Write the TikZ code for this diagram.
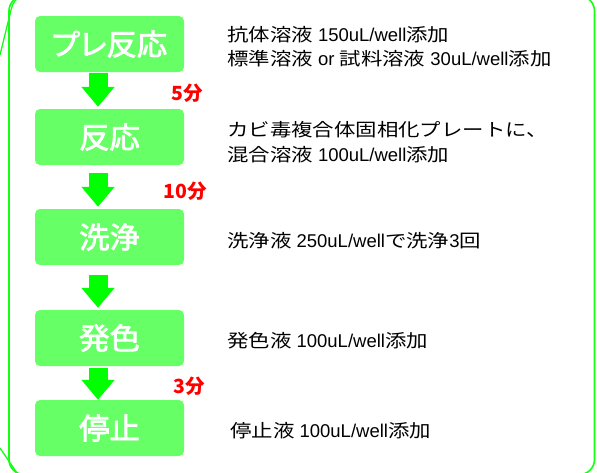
\documentclass[tikz,border=0pt]{standalone}
\usepackage{fontspec}
\setmainfont{Noto Sans CJK JP}
\newfontfamily\jpdesc[FakeStretch=1.19]{Noto Sans CJK JP}
\newfontfamily\jpbox[FakeStretch=1.03,FakeBold=2.5,RawFeature=+palt]{Noto Sans CJK JP}
\newfontfamily\latn{Liberation Sans}
\newcommand{\lt}[1]{{\latn\fontsize{18.5}{24.5}\selectfont #1}}
\usetikzlibrary{arrows.meta}
\definecolor{boxg}{RGB}{102,255,102}
\definecolor{arrg}{RGB}{0,255,0}
\definecolor{frameg}{RGB}{20,255,20}
\definecolor{timer}{RGB}{255,0,0}
\begin{document}
\begin{tikzpicture}[x=1pt,y=-1pt,
  stepbox/.style={rectangle, fill=boxg, rounded corners=5pt, minimum width=149pt,
    minimum height=56pt, inner sep=0pt, text=white,
    font=\jpbox\fontsize{29.5}{29.5}\selectfont},
  bigarrow/.style={draw=arrg, line width=19pt, -{Triangle[length=20pt,width=32pt,color=arrg]}},
  timelbl/.style={anchor=east, inner sep=0pt, text=timer,
    font=\bfseries\fontsize{19.5}{19.5}\selectfont},
  desc/.style={anchor=west, inner sep=0pt, align=left,
    font=\jpdesc\fontsize{18}{24.5}\selectfont},
  frame/.style={draw=frameg, line width=1.6pt}]
\useasboundingbox (0,0) rectangle (597,472);
% outer frame
\draw[frame, rounded corners=15pt] (9,-4) rectangle (594.5,474.5);
\coordinate (fa1) at (0,55);
\coordinate (fa2) at (17,-1);
\draw[frame, line width=1.3pt] (fa1) -- (11,10) .. controls (13,3) .. (fa2);
\coordinate (fb1) at (0,448);
\coordinate (fb2) at (17,473);
\draw[frame, line width=1.3pt] (fb1) -- (fb2);
% step boxes
\node[stepbox] (b1) at (109.5,44) {プレ反応};
\node[stepbox] (b2) at (109.5,137) {反応};
\node[stepbox] (b3) at (109.5,237) {洗浄};
\node[stepbox] (b4) at (109.5,338) {発色};
\node[stepbox] (b5) at (109.5,428) {停止};
% arrows
\draw[bigarrow, shorten <=1pt, shorten >=2pt] ([xshift=-11.5pt]b1.south) -- ([xshift=-11.5pt]b2.north);
\draw[bigarrow, shorten <=8pt, shorten >=2pt] ([xshift=-11.5pt]b2.south) -- ([xshift=-11.5pt]b3.north);
\draw[bigarrow, shorten <=10pt, shorten >=2pt] ([xshift=-11.5pt]b3.south) -- ([xshift=-11.5pt]b4.north);
\draw[bigarrow, shorten <=2pt, shorten >=0pt] ([xshift=-11.5pt]b4.south) -- ([xshift=-11.5pt]b5.north);
% times
\node[timelbl] (t1) at (203,93) {5分};
\node[timelbl] (t2) at (207,191) {10分};
\node[timelbl] (t3) at (205,386) {3分};
% descriptions
\node[desc] (d1) at (227,46.5) {抗体溶液\lt{ 150uL/well}添加\\標準溶液\lt{ or }試料溶液\lt{ 30uL/well}添加};
\node[desc] (d2) at (227,142) {カビ毒複合体固相化プレートに、\\混合溶液\lt{ 100uL/well}添加};
\node[desc] (d3) at (227,241) {洗浄液\lt{ 250uL/well}で洗浄\lt{3}回};
\node[desc] (d4) at (227,341) {発色液\lt{ 100uL/well}添加};
\node[desc] (d5) at (230,431) {停止液\lt{ 100uL/well}添加};
\end{tikzpicture}
\end{document}
